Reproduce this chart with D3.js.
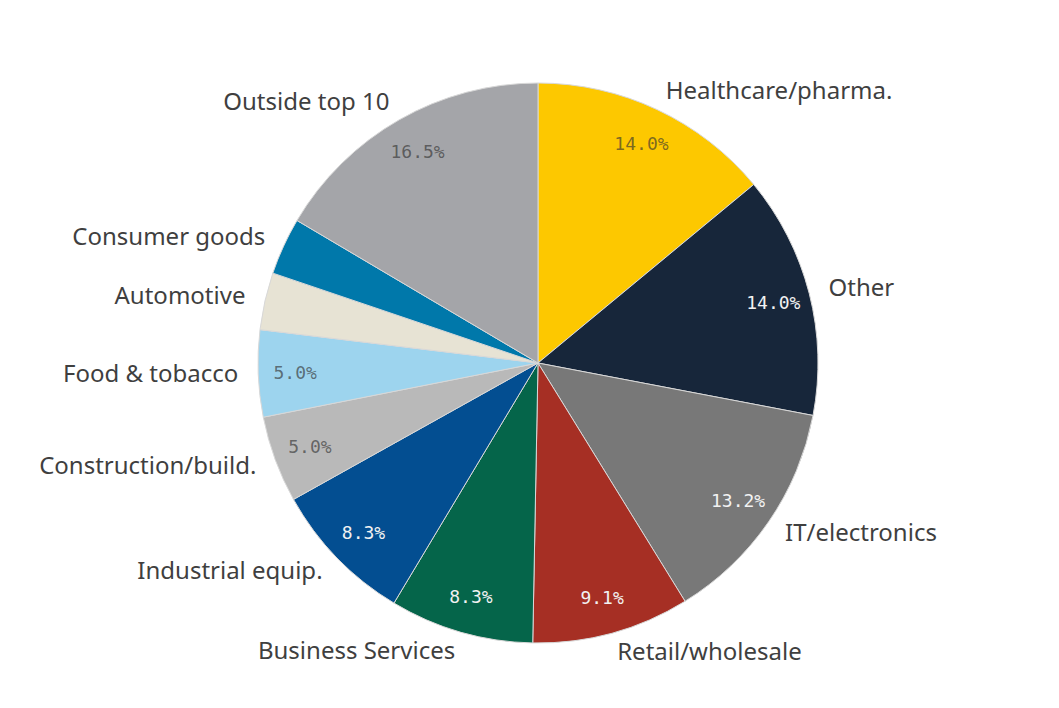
<!DOCTYPE html>
<html>
<head>
<meta charset="utf-8">
<script src="https://cdn.jsdelivr.net/npm/d3@7"></script>
<style>
  html, body { margin: 0; padding: 0; background: #ffffff; }
  svg { display: block; }
</style>
</head>
<body>
<svg id="chart" width="1059" height="708"></svg>
<script>
// Industry shares, clockwise from 12 o'clock
const categories = [
  "Healthcare/pharma.", "Other", "IT/electronics", "Retail/wholesale",
  "Business Services", "Industrial equip.", "Construction/build.",
  "Food & tobacco", "Automotive", "Consumer goods", "Outside top 10"
];
const shares = [14.0, 14.0, 13.2, 9.1, 8.3, 8.3, 5.0, 5.0, 3.3, 3.3, 16.5];
const sliceColors = [
  "#fdc800", "#17263a", "#787878", "#a62f24", "#05654a", "#034e91",
  "#b9b9b9", "#9dd4ee", "#e7e3d4", "#0078aa", "#a4a5a9"
];
// Value labels shown only on slices wide enough to hold them
const showValue = [true, true, true, true, true, true, true, true, false, false, true];
const darkSlice = [false, true, true, true, true, true, false, false, false, true, false];

const width = 1059, height = 708;
const cx = 538, cy = 363, radius = 280;

const data = categories.map((name, i) => ({
  name, value: shares[i], color: sliceColors[i], show: showValue[i], dark: darkSlice[i]
}));

const svg = d3.select("#chart");
const g = svg.append("g").attr("transform", `translate(${cx},${cy})`);

const pie = d3.pie().sort(null).value(d => d.value);
const arcs = pie(data);

const arc = d3.arc().innerRadius(0).outerRadius(radius);
const valueArc = d3.arc().innerRadius(243).outerRadius(243);
const nameArc = d3.arc().innerRadius(300).outerRadius(300);

g.selectAll("path.slice")
  .data(arcs)
  .join("path")
  .attr("class", "slice")
  .attr("d", arc)
  .attr("fill", d => d.data.color)
  .attr("stroke", "#d8d8d8")
  .attr("stroke-width", 1)
  .attr("stroke-linejoin", "round");

// Percentage labels inside slices
g.selectAll("text.value")
  .data(arcs.filter(d => d.data.show))
  .join("text")
  .attr("class", "value")
  .attr("transform", d => `translate(${valueArc.centroid(d)})`)
  .attr("text-anchor", "middle")
  .attr("dominant-baseline", "central")
  .style("font-family", "'DejaVu Sans Mono', monospace")
  .style("font-size", "18px")
  .attr("fill", d => d.data.dark ? "#f2f2f2" : "#333333")
  .attr("fill-opacity", d => d.data.dark ? 1 : 0.65)
  .text(d => d.data.value.toFixed(1) + "%");

// Category names around the pie
g.selectAll("text.name")
  .data(arcs)
  .join("text")
  .attr("class", "name")
  .attr("transform", d => {
    const [x, y] = nameArc.centroid(d);
    return `translate(${x},${y - 2})`;
  })
  .attr("text-anchor", d => ((d.startAngle + d.endAngle) / 2) < Math.PI ? "start" : "end")
  .attr("dominant-baseline", "central")
  .style("font-family", "'Noto Sans', sans-serif")
  .style("font-size", "24px")
  .attr("fill", "#3f3f3f")
  .text(d => d.data.name);
</script>
</body>
</html>
